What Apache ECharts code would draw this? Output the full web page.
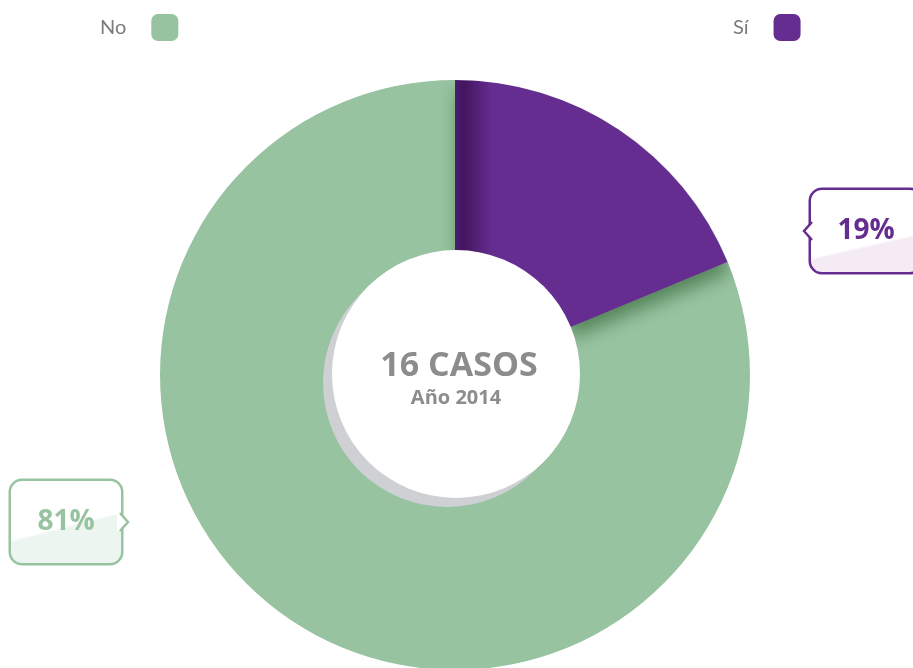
<!DOCTYPE html>
<html lang="es">
<head>
<meta charset="UTF-8">
<title>Casos 2014</title>
<style>
    html, body { margin: 0; padding: 0; background: #fff; }
    #main { width: 913px; height: 668px; }
</style>
</head>
<body>
<div id="main"></div>
<script src="https://cdn.jsdelivr.net/npm/echarts@6/dist/echarts.min.js"></script>
<script>
    // datos
    var categorias = ['No', 'Sí'];
    var casos = [13, 3];
    var colores = ['#98c3a0', '#662d91'];
    var tintes = ['#edf5f1', '#f4ebf4'];
    var anio = 2014;

    var centro = [455, 375];
    var radios = [124, 295];

    var total = casos.reduce(function (a, b) { return a + b; }, 0);
    // "Sí" empieza arriba y va en sentido horario, "No" se dibuja primero
    var inicio = (90 + 360 * casos[0] / total) % 360;

    var myChart = echarts.init(document.getElementById('main'));

    // fondo de la etiqueta: blanco arriba y una franja tenue abajo (a = borde izq., b = borde der.)
    var fondoEtiqueta = function (tinte, a, b) {
        var W = 112, H = 82, t = 12;
        var nx = (a - b) * H, ny = W, len = Math.sqrt(nx * nx + ny * ny);
        nx /= len; ny /= len;
        var mx = W / 2, my = (a + b) * H / 2;
        return {
            type: 'linear',
            x: (mx - t * nx) / W, y: (my - t * ny) / H,
            x2: (mx + t * nx) / W, y2: (my + t * ny) / H,
            colorStops: [
                { offset: 0, color: '#ffffff' },
                { offset: 0.45, color: '#ffffff' },
                { offset: 0.55, color: tinte },
                { offset: 1, color: tinte }
            ]
        };
    };
    var olas = [[0.74, 0.38], [0.84, 0.52]];

    var datos = categorias.map(function (c, i) {
        var item = {
            name: c,
            value: casos[i],
            itemStyle: { color: colores[i] },
            label: {
                borderColor: colores[i],
                backgroundColor: fondoEtiqueta(tintes[i], olas[i][0], olas[i][1]),
                rich: { v: { color: colores[i] } }
            }
        };
        if (i === 1) {
            item.itemStyle = {
                color: {
                    type: 'linear', x: centro[0], y: 0, x2: centro[0] + 37, y2: 0, global: true,
                    colorStops: [
                        { offset: 0, color: '#4b1c70' },
                        { offset: 0.25, color: '#43165f' },
                        { offset: 1, color: colores[i] }
                    ]
                },
                shadowColor: 'rgba(55,105,60,0.7)',
                shadowBlur: 18,
                shadowOffsetX: 3,
                shadowOffsetY: 10
            };
        }
        return item;
    });

    var option = {
        backgroundColor: '#fff',
        animation: false,
        legend: [
            {
                left: 95, top: 9,
                align: 'right',
                itemWidth: 27, itemHeight: 27,
                icon: 'roundRect',
                selectedMode: false,
                textStyle: { color: '#7b7b7b', fontSize: 20, fontFamily: 'Lato', padding: [0, 20, 0, 0] },
                data: [{ name: categorias[0], itemStyle: { color: colores[0] } }]
            },
            {
                left: 728, top: 9,
                align: 'right',
                itemWidth: 27, itemHeight: 27,
                icon: 'roundRect',
                selectedMode: false,
                textStyle: { color: '#7b7b7b', fontSize: 20, fontFamily: 'Lato', padding: [0, 20, 0, 0] },
                data: [{ name: categorias[1], itemStyle: { color: colores[1] } }]
            }
        ],
        graphic: [
            // tapa la sombra que se sale del anillo
            {
                type: 'ring', z: 40, silent: true,
                shape: { cx: centro[0], cy: centro[1], r: radios[1] + 40, r0: radios[1] + 0.5 },
                style: { fill: '#fff' }
            },
            {
                type: 'circle', z: 50, silent: true,
                shape: { cx: centro[0] + 1, cy: centro[1] - 1, r: radios[0] },
                style: { fill: '#fff', shadowColor: '#cfd0d3', shadowBlur: 0, shadowOffsetX: -9, shadowOffsetY: 9 }
            },
            {
                type: 'text', z: 60, silent: true,
                style: { text: total + ' CASOS', fill: '#8c8c8c', font: 'bold 34px "Open Sans"', textAlign: 'center', textVerticalAlign: 'middle' },
                x: 459, y: 366
            },
            {
                type: 'text', z: 60, silent: true,
                style: { text: 'Año ' + anio, fill: '#8c8c8c', font: 'bold 20px "Open Sans"', textAlign: 'center', textVerticalAlign: 'middle' },
                x: 456, y: 398
            },
            // piquitos de las etiquetas
            {
                type: 'polygon', z: 100, silent: true,
                shape: { points: [[815, 221], [804, 231], [815, 241]] },
                style: { fill: '#fff', stroke: null }
            },
            {
                type: 'polyline', z: 101, silent: true,
                shape: { points: [[812, 222], [804, 231], [812, 240]] },
                style: { stroke: colores[1], lineWidth: 2.5, fill: null }
            },
            {
                type: 'polygon', z: 100, silent: true,
                shape: { points: [[117, 512], [128, 522], [117, 532]] },
                style: { fill: '#fff', stroke: null }
            },
            {
                type: 'polyline', z: 101, silent: true,
                shape: { points: [[120, 513], [128, 522], [120, 531]] },
                style: { stroke: colores[0], lineWidth: 2.5, fill: null }
            }
        ],
        series: [
            {
                type: 'pie',
                center: centro,
                radius: radios,
                startAngle: inicio,
                clockwise: true,
                avoidLabelOverlap: false,
                percentPrecision: 0,
                emphasis: { disabled: true },
                labelLine: { show: false },
                label: {
                    show: true,
                    position: 'outside',
                    formatter: '{v|{d}%}',
                    borderWidth: 2.5,
                    borderRadius: 11,
                    padding: [24, 0],
                    rich: {
                        v: { width: 110, align: 'center', fontSize: 28, fontWeight: 'bold', lineHeight: 34, fontFamily: 'Open Sans' }
                    }
                },
                labelLayout: function (params) {
                    if (params.dataIndex === 1) {
                        return { x: 811, y: 231, align: 'left', verticalAlign: 'middle' };
                    }
                    return { x: 11, y: 522, align: 'left', verticalAlign: 'middle' };
                },
                data: datos
            }
        ]
    };

    myChart.setOption(option);
</script>
</body>
</html>
